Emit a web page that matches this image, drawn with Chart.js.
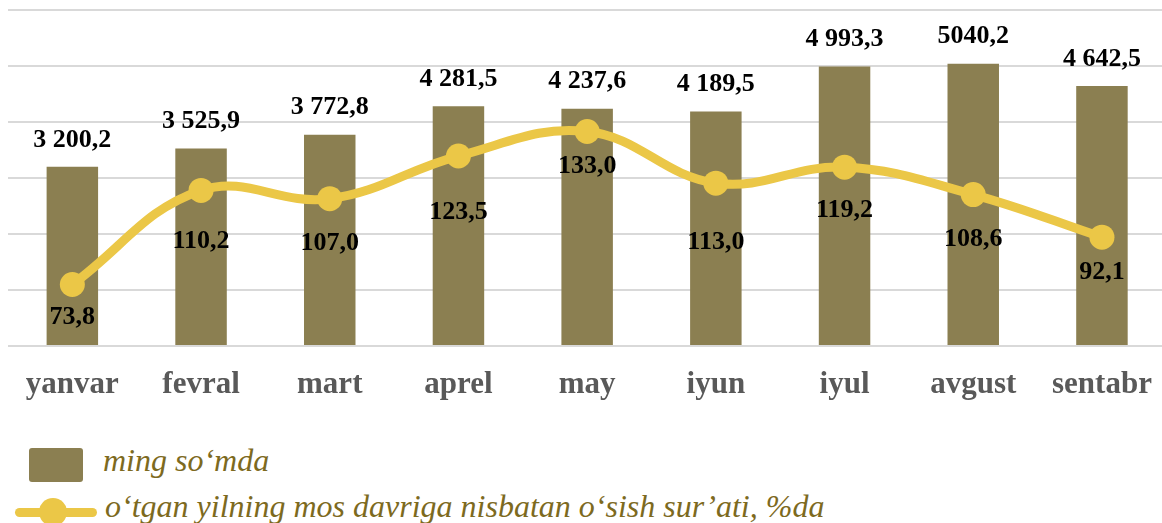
<!DOCTYPE html>
<html>
<head>
<meta charset="utf-8">
<script src="https://cdn.jsdelivr.net/npm/chart.js@4"></script>
<style>
  html, body { margin: 0; padding: 0; background: #ffffff; overflow: hidden; }
  .wrap { position: relative; width: 1162px; height: 523px; overflow: hidden; }
  .chart-box { position: absolute; left: 0; top: 0; width: 1172px; height: 401px; }
  .swatch { position: absolute; left: 29px; top: 448px; width: 54px; height: 34px; background: #8b7f51; border-radius: 3px; }
  .leg-line { position: absolute; left: 15px; top: 508px; width: 82px; height: 9px; border-radius: 5px; background: #ebc747; }
  .leg-dot { position: absolute; left: 39px; top: 498px; width: 28px; height: 28px; border-radius: 50%; background: #ebc747; }
  .leg-text { position: absolute; font-family: 'Liberation Serif', 'Times New Roman', serif; font-style: italic; font-size: 32px; color: #7d6a1e; white-space: nowrap; }
</style>
</head>
<body>
<div class="wrap">
  <div class="chart-box"><canvas id="chartMain" width="1172" height="401"></canvas></div>
  <div class="swatch"></div>
  <div class="leg-text" style="left:103px; top:442px;">ming so‘mda</div>
  <div class="leg-line"></div>
  <div class="leg-dot"></div>
  <div class="leg-text" style="left:105px; top:488px;">o‘tgan yilning mos davriga nisbatan o‘sish sur’ati, %da</div>
</div>
<script>
// Data
const months = ['yanvar', 'fevral', 'mart', 'aprel', 'may', 'iyun', 'iyul', 'avgust', 'sentabr'];
const amounts = [3200.2, 3525.9, 3772.8, 4281.5, 4237.6, 4189.5, 4993.3, 5040.2, 4642.5];
const amountLabels = ['3 200,2', '3 525,9', '3 772,8', '4 281,5', '4 237,6', '4 189,5', '4 993,3', '5040,2', '4 642,5'];
const growth = [73.8, 110.2, 107.0, 123.5, 133.0, 113.0, 119.2, 108.6, 92.1];

// label placement under each line point (px below the point centre)
const growthLabelShift = [33, 51, 45, 56, 35, 59, 43, 45, 35];

const SERIF = "'Liberation Serif', 'Times New Roman', serif";

const valueLabels = {
  id: 'valueLabels',
  afterDatasetsDraw(chart) {
    const ctx = chart.ctx;
    ctx.save();
    ctx.font = 'bold 26px ' + SERIF;
    ctx.fillStyle = '#000000';
    ctx.textAlign = 'center';
    ctx.textBaseline = 'middle';

    const bars = chart.getDatasetMeta(0).data;
    bars.forEach((bar, i) => {
      ctx.fillText(amountLabels[i], bar.x, bar.y - 27);
    });

    const points = chart.getDatasetMeta(1).data;
    points.forEach((pt, i) => {
      const txt = growth[i].toFixed(1).replace('.', ',');
      ctx.fillText(txt, pt.x, pt.y + growthLabelShift[i]);
    });
    ctx.restore();
  }
};

new Chart(document.getElementById('chartMain'), {
  type: 'bar',
  data: {
    labels: months,
    datasets: [
      {
        type: 'bar',
        label: 'ming so‘mda',
        data: amounts,
        backgroundColor: '#8b7f51',
        barPercentage: 0.4,
        categoryPercentage: 1,
        yAxisID: 'y',
        order: 2
      },
      {
        type: 'line',
        label: 'o‘tgan yilning mos davriga nisbatan o‘sish sur’ati, %da',
        data: growth,
        borderColor: '#ebc747',
        backgroundColor: '#ebc747',
        borderWidth: 9,
        tension: 0.4,
        pointRadius: 12.5,
        pointBorderWidth: 0,
        pointBackgroundColor: '#ebc747',
        yAxisID: 'y1',
        order: 1
      }
    ]
  },
  options: {
    responsive: false,
    animation: false,
    layout: { autoPadding: false, padding: { left: 8, right: 2, top: 10, bottom: 0 } },
    plugins: {
      legend: { display: false },
      tooltip: { enabled: false }
    },
    scales: {
      y: {
        min: 0,
        max: 6000,
        ticks: { stepSize: 1000, display: false },
        grid: { color: '#d9d9d9', lineWidth: 2, drawTicks: false },
        border: { display: false },
        afterFit(scale) { scale.width = 0; }
      },
      y1: {
        display: false,
        min: 50,
        max: 180
      },
      x: {
        grid: { display: false, drawTicks: false },
        border: { display: false },
        ticks: {
          color: '#595959',
          padding: 20,
          maxRotation: 0,
          font: { family: SERIF, size: 31, weight: 'bold' }
        },
        afterFit(scale) { scale.height = 55; }
      }
    }
  },
  plugins: [valueLabels]
});
</script>
</body>
</html>
